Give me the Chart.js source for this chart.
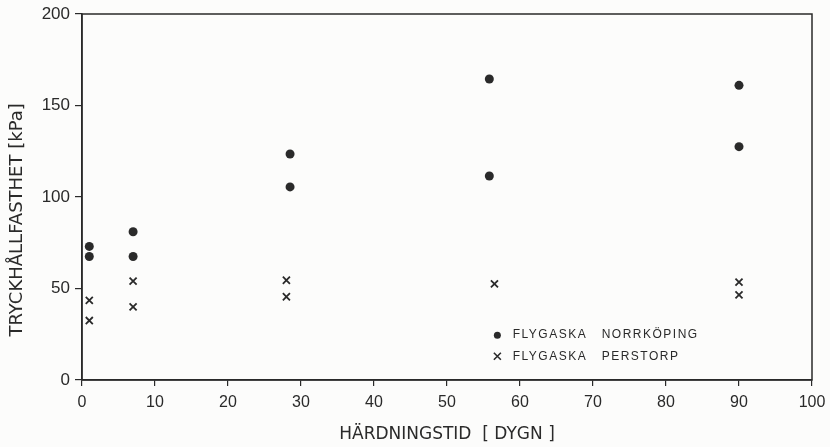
<!DOCTYPE html>
<html>
<head>
    <title>Tryckhållfasthet</title>
    <script src="https://cdn.jsdelivr.net/npm/chart.js"></script>
    <style>
        body { margin: 0; background: #fcfcfb; }
        canvas { display: block; }
    </style>
</head>
<body>
    <canvas id="chart" width="830" height="447"></canvas>
    <script>
        // hardening time (days) and strength (kPa)
        const norrkopingDays = [1, 1, 7, 7, 28.5, 28.5, 55.8, 55.8, 90, 90];
        const norrkopingKpa  = [73, 67.5, 81, 67.5, 123.5, 105.5, 164.5, 111.5, 161, 127.5];
        const perstorpDays = [1, 1, 7, 7, 28, 28, 56.5, 90, 90];
        const perstorpKpa  = [43.5, 32.5, 54, 40, 54.5, 45.5, 52.5, 53.5, 46.5];
        const xTicks = [0, 10, 20, 30, 40, 50, 60, 70, 80, 90, 100];
        const yTicks = [0, 50, 100, 150, 200];

        const ink = '#2a2a2a';

        function toPoints(xs, ys) {
            return xs.map((x, i) => ({ x: x, y: ys[i] }));
        }

        // frame around the plot area
        const framePlugin = {
            id: 'frame',
            afterDraw(chart) {
                const a = chart.chartArea, c = chart.ctx;
                c.save();
                c.strokeStyle = ink;
                c.lineWidth = 1.5;
                c.strokeRect(a.left, a.top, a.right - a.left, a.bottom - a.top);
                c.restore();
            }
        };

        // legend sits inside the plot, lower right
        const legendPlugin = {
            id: 'inlineLegend',
            afterDraw(chart) {
                const c = chart.ctx;
                const xs = chart.scales.x, ys = chart.scales.y;
                const mx = xs.getPixelForValue(56.9);
                const tx = xs.getPixelForValue(59.0);
                const rows = [ys.getPixelForValue(24.5), ys.getPixelForValue(13)];
                c.save();
                c.fillStyle = ink;
                c.strokeStyle = ink;
                c.font = '12px "Liberation Sans"';
                c.letterSpacing = '1.5px';
                c.textBaseline = 'middle';
                chart.data.datasets.forEach((ds, i) => {
                    const y = rows[i];
                    if (ds.pointStyle === 'circle') {
                        c.beginPath();
                        c.arc(mx, y, 3.5, 0, Math.PI * 2);
                        c.fill();
                    } else {
                        c.lineWidth = 1.6;
                        c.beginPath();
                        c.moveTo(mx - 3.5, y - 3.5); c.lineTo(mx + 3.5, y + 3.5);
                        c.moveTo(mx + 3.5, y - 3.5); c.lineTo(mx - 3.5, y + 3.5);
                        c.stroke();
                    }
                    c.fillText(ds.label.split(' ').join('   '), tx, y);
                });
                c.restore();
            }
        };

        new Chart(document.getElementById('chart'), {
            type: 'scatter',
            data: {
                datasets: [{
                    label: 'FLYGASKA NORRKÖPING',
                    data: toPoints(norrkopingDays, norrkopingKpa),
                    pointStyle: 'circle',
                    pointRadius: 4.5,
                    backgroundColor: ink,
                    borderColor: ink,
                    borderWidth: 0
                }, {
                    label: 'FLYGASKA PERSTORP',
                    data: toPoints(perstorpDays, perstorpKpa),
                    pointStyle: 'crossRot',
                    pointRadius: 5,
                    borderColor: ink,
                    borderWidth: 1.8
                }]
            },
            options: {
                responsive: false,
                animation: false,
                layout: { padding: { top: 14, right: 18, left: 0, bottom: 0 } },
                plugins: {
                    legend: { display: false },
                    tooltip: { enabled: false }
                },
                scales: {
                    x: {
                        min: 0, max: 100,
                        afterBuildTicks: s => { s.ticks = xTicks.map(v => ({ value: v })); },
                        afterFit: s => { s.height = 67; s.paddingLeft = 0; s.paddingRight = 0; },
                        grid: { drawOnChartArea: false, tickLength: 6, color: ink, lineWidth: 1.2 },
                        border: { color: ink, width: 1.5 },
                        ticks: { color: ink, font: { family: 'Liberation Sans', size: 16 }, padding: 7 },
                        title: {
                            display: true, text: 'HÄRDNINGSTID  [ DYGN ]', color: ink,
                            font: { family: 'DejaVu Sans', size: 17 }, padding: { top: 2, bottom: 2 }
                        }
                    },
                    y: {
                        min: 0, max: 200,
                        afterBuildTicks: s => { s.ticks = yTicks.map(v => ({ value: v })); },
                        afterFit: s => { s.width = 82; s.paddingTop = 0; s.paddingBottom = 0; },
                        grid: { drawOnChartArea: false, tickLength: 7, color: ink, lineWidth: 1.2 },
                        border: { color: ink, width: 1.5 },
                        ticks: { color: ink, font: { family: 'Liberation Sans', size: 17 }, padding: 5 },
                        title: {
                            display: true, text: 'TRYCKHÅLLFASTHET [kPa]' + '\u00a0'.repeat(8), color: ink,
                            font: { family: 'DejaVu Sans', size: 18 }, padding: { top: 7, bottom: 7 }
                        }
                    }
                }
            },
            plugins: [framePlugin, legendPlugin]
        });
    </script>
</body>
</html>
